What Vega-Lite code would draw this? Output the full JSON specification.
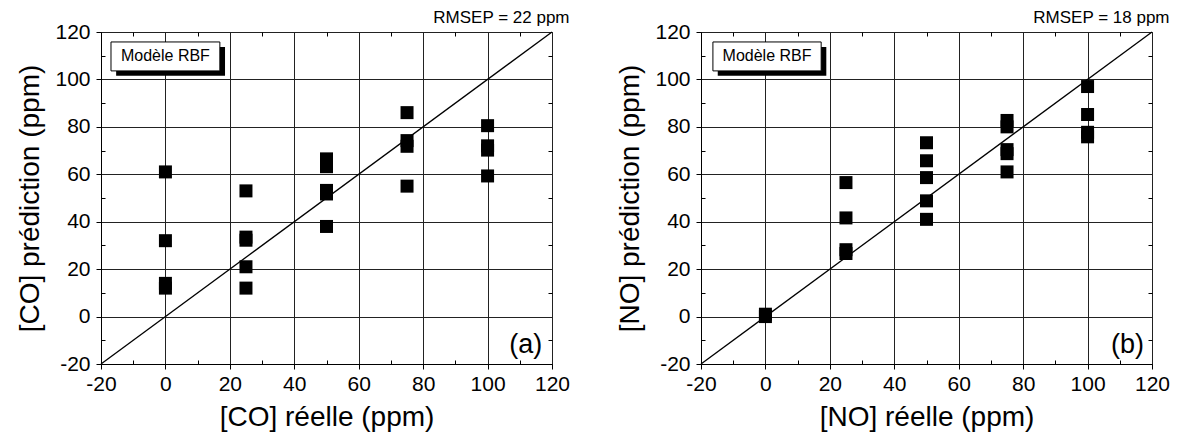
{
  "$schema": "https://vega.github.io/schema/vega-lite/v6.json",
  "background": "white",
  "padding": {"left": 16, "top": 8, "right": 5, "bottom": 5},
  "spacing": 149,
  "bounds": "flush",
  "config": {
    "font": "Liberation Sans",
    "view": {"stroke": "black", "strokeWidth": 1},
    "axis": {
      "domainColor": "black", "tickColor": "black", "labelColor": "black", "titleColor": "black",
      "labelFont": "Liberation Sans", "titleFont": "Liberation Sans",
      "labelFontSize": 21, "titleFontSize": 28, "titleFontWeight": "normal",
      "gridColor": "#222", "gridWidth": 1, "domainWidth": 1, "tickWidth": 1,
      "labelFlush": false, "labelOverlap": false
    },
    "title": {"font": "Liberation Sans", "fontSize": 17, "fontWeight": "normal", "color": "black", "anchor": "end", "offset": -6}
  },
  "datasets": {
    "co": [
      {"reel": 0, "pred": 61}, {"reel": 0, "pred": 32}, {"reel": 0, "pred": 14}, {"reel": 0, "pred": 12},
      {"reel": 25, "pred": 53}, {"reel": 25, "pred": 33.5}, {"reel": 25, "pred": 32.2}, {"reel": 25, "pred": 21}, {"reel": 25, "pred": 12},
      {"reel": 50, "pred": 66.5}, {"reel": 50, "pred": 63.2}, {"reel": 50, "pred": 53.2}, {"reel": 50, "pred": 51.7}, {"reel": 50, "pred": 38},
      {"reel": 75, "pred": 86}, {"reel": 75, "pred": 74.2}, {"reel": 75, "pred": 71.8}, {"reel": 75, "pred": 55},
      {"reel": 100, "pred": 80.5}, {"reel": 100, "pred": 72}, {"reel": 100, "pred": 70.2}, {"reel": 100, "pred": 59.3}
    ],
    "no": [
      {"reel": 0, "pred": 1}, {"reel": 0, "pred": 0},
      {"reel": 25, "pred": 56.5}, {"reel": 25, "pred": 41.6}, {"reel": 25, "pred": 28.2}, {"reel": 25, "pred": 26.6},
      {"reel": 50, "pred": 73.3}, {"reel": 50, "pred": 65.7}, {"reel": 50, "pred": 58.6}, {"reel": 50, "pred": 48.8}, {"reel": 50, "pred": 41},
      {"reel": 75, "pred": 82.7}, {"reel": 75, "pred": 80}, {"reel": 75, "pred": 70.4}, {"reel": 75, "pred": 68.7}, {"reel": 75, "pred": 61},
      {"reel": 100, "pred": 97}, {"reel": 100, "pred": 85.2}, {"reel": 100, "pred": 77.7}, {"reel": 100, "pred": 75.8}
    ],
    "diag": [{"v": -20}, {"v": 120}]
  },
  "hconcat": [
    {
      "width": 451, "height": 332,
      "title": {"text": "RMSEP = 22 ppm"},
      "resolve": {"axis": {"x": "independent", "y": "independent"}},
      "layer": [
        {
          "data": {"name": "diag"},
          "mark": {"type": "line", "color": "black", "strokeWidth": 1.3},
          "encoding": {
            "x": {"field": "v", "type": "quantitative", "scale": {"domain": [-20, 120], "nice": false, "zero": false},
                  "axis": {"orient": "top", "values": [-10, 10, 30, 50, 70, 90, 110], "labels": false, "title": null, "grid": false, "domain": false, "tickSize": -4}},
            "y": {"field": "v", "type": "quantitative", "scale": {"domain": [-20, 120], "nice": false, "zero": false},
                  "axis": {"orient": "right", "values": [-10, 10, 30, 50, 70, 90, 110], "labels": false, "title": null, "grid": false, "domain": false, "tickSize": -4}}
          }
        },
        {
          "data": {"name": "co"},
          "mark": {"type": "point", "shape": "square", "filled": true, "color": "black", "size": 169, "opacity": 1, "strokeWidth": 0},
          "encoding": {
            "x": {"field": "reel", "type": "quantitative", "title": "[CO] réelle (ppm)", "scale": {"domain": [-20, 120], "nice": false, "zero": false},
                  "axis": {"orient": "bottom", "values": [-20, -10, 0, 10, 20, 30, 40, 50, 60, 70, 80, 90, 100, 110, 120],
                           "labelExpr": "datum.value % 20 === 0 ? '' + datum.value : ''", "grid": true,
                           "gridOpacity": {"condition": {"test": "datum.value % 20 === 0", "value": 1}, "value": 0},
                           "tickSize": {"condition": {"test": "datum.value % 20 === 0", "value": 5}, "value": -4},
                           "labelPadding": 4, "titlePadding": 9}},
            "y": {"field": "pred", "type": "quantitative", "title": "[CO] prédiction (ppm)", "scale": {"domain": [-20, 120], "nice": false, "zero": false},
                  "axis": {"orient": "left", "values": [-20, -10, 0, 10, 20, 30, 40, 50, 60, 70, 80, 90, 100, 110, 120],
                           "labelExpr": "datum.value % 20 === 0 ? '' + datum.value : ''", "grid": true,
                           "gridOpacity": {"condition": {"test": "datum.value % 20 === 0", "value": 1}, "value": 0},
                           "tickSize": {"condition": {"test": "datum.value % 20 === 0", "value": 5}, "value": -4},
                           "labelPadding": 6, "titlePadding": 10}}
          }
        },
        {
          "data": {"values": [{}]},
          "mark": {"type": "rect", "color": "black"},
          "encoding": {
            "x": {"datum": -15.3, "type": "quantitative", "scale": {"domain": [-20, 120], "nice": false, "zero": false}, "axis": null},
            "x2": {"datum": 18.5},
            "y": {"datum": 101.5, "type": "quantitative", "scale": {"domain": [-20, 120], "nice": false, "zero": false}, "axis": null},
            "y2": {"datum": 113.7}
          }
        },
        {
          "data": {"values": [{}]},
          "mark": {"type": "rect", "fill": "white", "stroke": "black", "strokeWidth": 1},
          "encoding": {
            "x": {"datum": -16.9, "type": "quantitative", "axis": null},
            "x2": {"datum": 16.9},
            "y": {"datum": 103.6, "type": "quantitative", "axis": null},
            "y2": {"datum": 115.8}
          }
        },
        {
          "data": {"values": [{}]},
          "mark": {"type": "text", "text": "Modèle RBF", "font": "Liberation Sans", "fontSize": 16, "align": "center", "baseline": "middle", "color": "black"},
          "encoding": {
            "x": {"datum": 0, "type": "quantitative", "axis": null},
            "y": {"datum": 109.7, "type": "quantitative", "axis": null}
          }
        },
        {
          "data": {"values": [{}]},
          "mark": {"type": "text", "text": "(a)", "font": "Liberation Sans", "fontSize": 27, "align": "right", "baseline": "alphabetic", "color": "black"},
          "encoding": {
            "x": {"datum": 117, "type": "quantitative", "axis": null},
            "y": {"datum": -15.5, "type": "quantitative", "axis": null}
          }
        }
      ]
    },
    {
      "width": 451, "height": 332,
      "title": {"text": "RMSEP = 18 ppm"},
      "resolve": {"axis": {"x": "independent", "y": "independent"}},
      "layer": [
        {
          "data": {"name": "diag"},
          "mark": {"type": "line", "color": "black", "strokeWidth": 1.3},
          "encoding": {
            "x": {"field": "v", "type": "quantitative", "scale": {"domain": [-20, 120], "nice": false, "zero": false},
                  "axis": {"orient": "top", "values": [-10, 10, 30, 50, 70, 90, 110], "labels": false, "title": null, "grid": false, "domain": false, "tickSize": -4}},
            "y": {"field": "v", "type": "quantitative", "scale": {"domain": [-20, 120], "nice": false, "zero": false},
                  "axis": {"orient": "right", "values": [-10, 10, 30, 50, 70, 90, 110], "labels": false, "title": null, "grid": false, "domain": false, "tickSize": -4}}
          }
        },
        {
          "data": {"name": "no"},
          "mark": {"type": "point", "shape": "square", "filled": true, "color": "black", "size": 169, "opacity": 1, "strokeWidth": 0},
          "encoding": {
            "x": {"field": "reel", "type": "quantitative", "title": "[NO] réelle (ppm)", "scale": {"domain": [-20, 120], "nice": false, "zero": false},
                  "axis": {"orient": "bottom", "values": [-20, -10, 0, 10, 20, 30, 40, 50, 60, 70, 80, 90, 100, 110, 120],
                           "labelExpr": "datum.value % 20 === 0 ? '' + datum.value : ''", "grid": true,
                           "gridOpacity": {"condition": {"test": "datum.value % 20 === 0", "value": 1}, "value": 0},
                           "tickSize": {"condition": {"test": "datum.value % 20 === 0", "value": 5}, "value": -4},
                           "labelPadding": 4, "titlePadding": 9}},
            "y": {"field": "pred", "type": "quantitative", "title": "[NO] prédiction (ppm)", "scale": {"domain": [-20, 120], "nice": false, "zero": false},
                  "axis": {"orient": "left", "values": [-20, -10, 0, 10, 20, 30, 40, 50, 60, 70, 80, 90, 100, 110, 120],
                           "labelExpr": "datum.value % 20 === 0 ? '' + datum.value : ''", "grid": true,
                           "gridOpacity": {"condition": {"test": "datum.value % 20 === 0", "value": 1}, "value": 0},
                           "tickSize": {"condition": {"test": "datum.value % 20 === 0", "value": 5}, "value": -4},
                           "labelPadding": 6, "titlePadding": 10}}
          }
        },
        {
          "data": {"values": [{}]},
          "mark": {"type": "rect", "color": "black"},
          "encoding": {
            "x": {"datum": -14.8, "type": "quantitative", "scale": {"domain": [-20, 120], "nice": false, "zero": false}, "axis": null},
            "x2": {"datum": 18.9},
            "y": {"datum": 101.5, "type": "quantitative", "scale": {"domain": [-20, 120], "nice": false, "zero": false}, "axis": null},
            "y2": {"datum": 113.7}
          }
        },
        {
          "data": {"values": [{}]},
          "mark": {"type": "rect", "fill": "white", "stroke": "black", "strokeWidth": 1},
          "encoding": {
            "x": {"datum": -16.3, "type": "quantitative", "axis": null},
            "x2": {"datum": 17.3},
            "y": {"datum": 103.6, "type": "quantitative", "axis": null},
            "y2": {"datum": 115.8}
          }
        },
        {
          "data": {"values": [{}]},
          "mark": {"type": "text", "text": "Modèle RBF", "font": "Liberation Sans", "fontSize": 16, "align": "center", "baseline": "middle", "color": "black"},
          "encoding": {
            "x": {"datum": 0.5, "type": "quantitative", "axis": null},
            "y": {"datum": 109.7, "type": "quantitative", "axis": null}
          }
        },
        {
          "data": {"values": [{}]},
          "mark": {"type": "text", "text": "(b)", "font": "Liberation Sans", "fontSize": 27, "align": "right", "baseline": "alphabetic", "color": "black"},
          "encoding": {
            "x": {"datum": 117.5, "type": "quantitative", "axis": null},
            "y": {"datum": -15.5, "type": "quantitative", "axis": null}
          }
        }
      ]
    }
  ]
}
